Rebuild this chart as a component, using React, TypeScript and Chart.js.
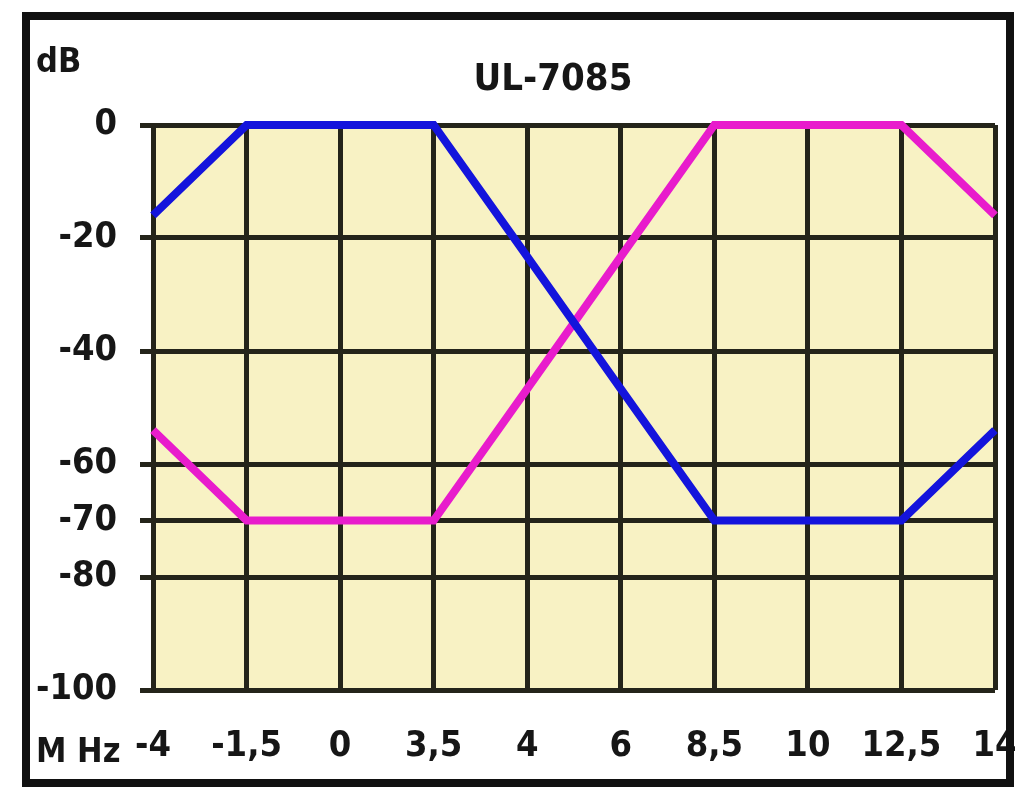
import React, { useEffect, useRef } from "react";
import { Chart, registerables } from "chart.js";

Chart.register(...registerables);

const frequencies = ["-4", "-1,5", "0", "3,5", "4", "6", "8,5", "10", "12,5", "14"];
const blueSeries = [-16, 0, 0, 0, -23.3, -46.7, -70, -70, -70, -54];
const pinkSeries = [-54, -70, -70, -70, -46.7, -23.3, 0, 0, 0, -16];
const yTickValues = [0, -20, -40, -60, -70, -80, -100];

const FONT = "'Liberation Sans Narrow', 'DejaVu Sans Condensed', 'Liberation Sans', sans-serif";
const TEXT = "#161616";
const GRID = "#24241a";

const decorPlugin = {
  id: "decor",
  beforeDraw(chart: any) {
    const { ctx, chartArea } = chart;
    ctx.save();
    ctx.fillStyle = "#ffffff";
    ctx.fillRect(0, 0, chart.width, chart.height);
    ctx.fillStyle = "#f8f2c4";
    ctx.fillRect(chartArea.left, chartArea.top, chartArea.right - chartArea.left, chartArea.bottom - chartArea.top);
    ctx.restore();
  },
  afterDraw(chart: any) {
    const { ctx } = chart;
    ctx.save();
    ctx.fillStyle = TEXT;
    ctx.textBaseline = "alphabetic";
    ctx.font = `bold 38px ${FONT}`;
    ctx.textAlign = "center";
    ctx.fillText("UL-7085", 553, 90);
    ctx.font = `bold 34px ${FONT}`;
    ctx.textAlign = "left";
    ctx.fillText("dB", 36, 72);
    ctx.fillText("M Hz", 36, 762);
    ctx.strokeStyle = "#111111";
    ctx.lineWidth = 8;
    ctx.strokeRect(26, 16, 984, 767);
    ctx.restore();
  },
};

export default function App() {
  const ref = useRef<HTMLCanvasElement | null>(null);
  useEffect(() => {
    if (!ref.current) return;
    const chart = new Chart(ref.current, {
      type: "line",
      data: {
        labels: frequencies,
        datasets: [
          {
            data: blueSeries,
            borderColor: "#1414dc",
            borderWidth: 8,
            pointRadius: 0,
            tension: 0,
            clip: 12 as any,
          },
          {
            data: pinkSeries,
            borderColor: "#e81ccc",
            borderWidth: 8,
            pointRadius: 0,
            tension: 0,
            clip: 12 as any,
          },
        ],
      },
      options: {
        animation: false,
        responsive: false,
        devicePixelRatio: 1,
        layout: { padding: { top: 125, right: 20, bottom: 0, left: 0 } },
        plugins: {
          legend: { display: false },
          title: { display: false },
          tooltip: { enabled: false },
        },
        scales: {
          x: {
            type: "category",
            offset: false,
            grid: { color: GRID, lineWidth: 5, drawTicks: false, tickLength: 0 },
            border: { display: false },
            ticks: {
              color: TEXT,
              font: { family: FONT, size: 36, weight: "bold" },
              padding: 35,
              maxRotation: 0,
              autoSkip: false,
            },
            afterFit(scale: any) {
              scale.height = 100;
              scale.paddingLeft = 0;
              scale.paddingRight = 0;
            },
          },
          y: {
            min: -100,
            max: 0,
            grid: { color: GRID, lineWidth: 5, drawTicks: true, tickLength: 13 },
            border: { display: false },
            ticks: {
              color: TEXT,
              font: { family: FONT, size: 36, weight: "bold" },
              padding: 23,
            },
            afterBuildTicks(scale: any) {
              scale.ticks = yTickValues.map((v) => ({ value: v }));
            },
            afterFit(scale: any) {
              scale.width = 153;
              scale.paddingTop = 0;
              scale.paddingBottom = 0;
            },
          },
        },
      },
      plugins: [decorPlugin],
    });
    return () => chart.destroy();
  }, []);
  return (
    <div style={{ position: "absolute", left: 0, top: 0, width: 1015, height: 790 }}>
      <canvas ref={ref} width={1015} height={790} style={{ display: "block" }} />
    </div>
  );
}
